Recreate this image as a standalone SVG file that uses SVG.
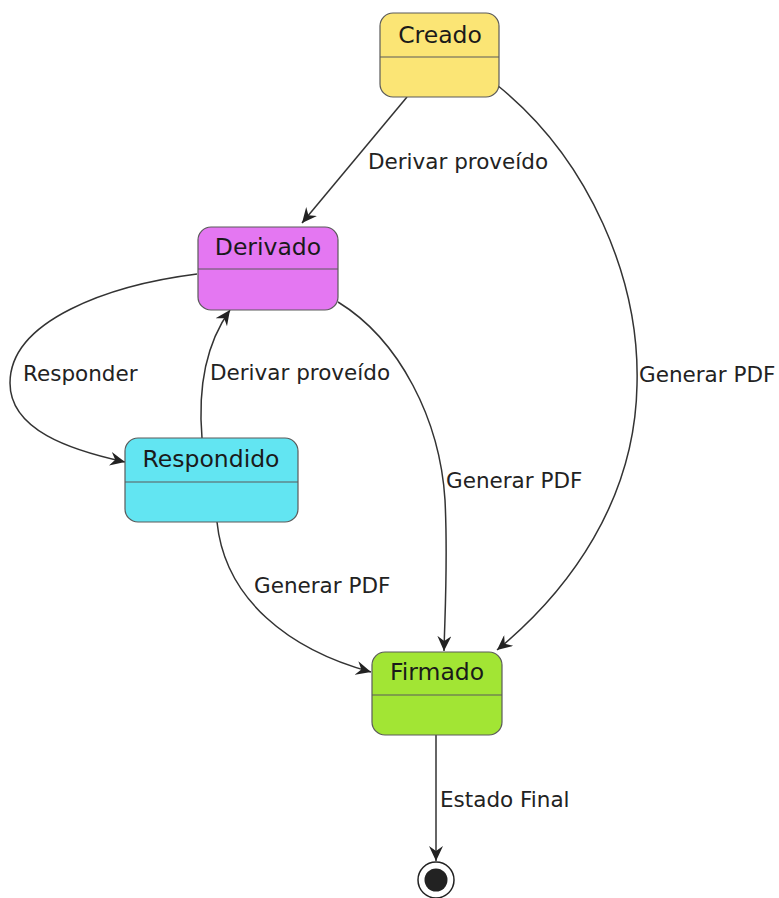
<svg xmlns="http://www.w3.org/2000/svg" width="779" height="898" viewBox="0 0 779 898">
  <style>
    .state rect { stroke: #5a5a5a; stroke-width: 1.2; }
    .state line { stroke: #5a5a5a; stroke-width: 1.2; }
    .title { font-family: "DejaVu Sans", "Liberation Sans", sans-serif; font-size: 23.5px; fill: #1a1a1a; text-anchor: middle; }
    .label { font-family: "DejaVu Sans", "Liberation Sans", sans-serif; font-size: 21.5px; fill: #222; }
    .edge { fill: none; stroke: #333; stroke-width: 1.5; marker-end: url(#arrow); }
  </style>
  <defs>
    <marker id="arrow" markerUnits="userSpaceOnUse" markerWidth="16" markerHeight="14" refX="15" refY="7" orient="auto">
      <path d="M0,0 L15,7 L0,14 L5,7 Z" fill="#222"/>
    </marker>
  </defs>
  <rect width="779" height="898" fill="#ffffff"/>

  <!-- transitions -->
  <g id="connectors">
    <path class="edge" d="M407,97 L302,223"/>
    <path class="edge" d="M497,85 C590,160 640,280 637,385 C635,500 570,590 497,650"/>
    <path class="edge" d="M338,302 C400,340 440,420 445,500 C448,560 445,610 444,651"/>
    <path class="edge" d="M217,522 C225,600 290,650 371,672"/>
    <path class="edge" d="M197,274 C110,285 10,320 10,383 C10,430 70,450 125,462"/>
    <path class="edge" d="M202,438 C198,390 205,345 230,310"/>
    <path class="edge" d="M436,735 L436,861"/>
    <text class="label" x="368" y="169">Derivar proveído</text>
    <text class="label" x="639" y="382">Generar PDF</text>
    <text class="label" x="446" y="488">Generar PDF</text>
    <text class="label" x="254" y="593">Generar PDF</text>
    <text class="label" x="23" y="381">Responder</text>
    <text class="label" x="210" y="380">Derivar proveído</text>
    <text class="label" x="440" y="807">Estado Final</text>
  </g>

  <g id="creado" class="state">
    <rect x="380" y="13" width="119" height="84" rx="13" fill="#fbe575"/>
    <line x1="380" y1="57" x2="499" y2="57"/>
    <text class="title" x="440" y="43">Creado</text>
  </g>

  <g id="derivado" class="state">
    <rect x="198" y="227" width="140" height="83" rx="13" fill="#e477f2"/>
    <line x1="198" y1="269" x2="338" y2="269"/>
    <text class="title" x="268" y="255">Derivado</text>
  </g>

  <g id="respondido" class="state">
    <rect x="125" y="438" width="173" height="84" rx="13" fill="#62e5f2"/>
    <line x1="125" y1="482" x2="298" y2="482"/>
    <text class="title" x="211" y="467">Respondido</text>
  </g>

  <g id="firmado" class="state">
    <rect x="372" y="652" width="130" height="83" rx="13" fill="#a2e534"/>
    <line x1="372" y1="695" x2="502" y2="695"/>
    <text class="title" x="437" y="680">Firmado</text>
  </g>

  <g id="final">
    <circle cx="436" cy="880" r="18" fill="#fff" stroke="#222" stroke-width="1.5"/>
    <circle cx="436" cy="880" r="11.5" fill="#222"/>
  </g>
</svg>
